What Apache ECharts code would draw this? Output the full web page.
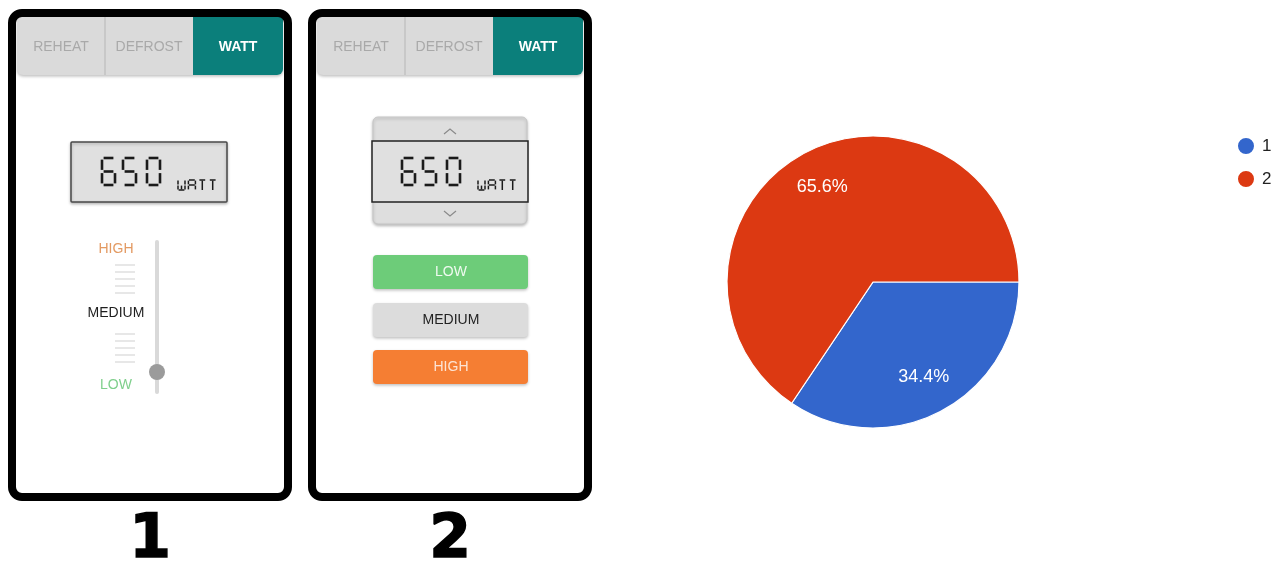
<!DOCTYPE html>
<html>
<head>
<meta charset="utf-8">
<script src="https://cdn.jsdelivr.net/npm/echarts@6/dist/echarts.min.js"></script>
<style>
html,body{margin:0;padding:0;background:#fff;}
#chart{width:1278px;height:564px;}
</style>
</head>
<body>
<div id="chart"></div>
<script>
// ---- data ----
const categories = ['1', '2'];
const shares = [34.4, 65.6];
const sliceColors = ['#3366cc', '#dc3912'];
const tabLabels = ['REHEAT', 'DEFROST', 'WATT'];
const levelLabels = ['LOW', 'MEDIUM', 'HIGH'];
const displayValue = '650';
const displayUnit = 'WATT';
const mockupCaptions = ['1', '2'];

// ---- seven-segment helper ----
const SEG_DIGITS = {
  '0': 'abcdef', '1': 'bc', '2': 'abdeg', '3': 'abcdg', '4': 'bcfg',
  '5': 'acdfg', '6': 'acdefg', '7': 'abc', '8': 'abcdefg', '9': 'abcdfg',
  'W': 'bcdefm', 'A': 'abcefg', 'T': 'at'
};
function segChar(x, y, w, h, ch, lw, gap) {
  const g = gap, out = [];
  const S = {
    a: [x + g, y, x + w - g, y],
    b: [x + w, y + g, x + w, y + h / 2 - g],
    c: [x + w, y + h / 2 + g, x + w, y + h - g],
    d: [x + g, y + h, x + w - g, y + h],
    e: [x, y + h / 2 + g, x, y + h - g],
    f: [x, y + g, x, y + h / 2 - g],
    g: [x + g, y + h / 2, x + w - g, y + h / 2],
    m: [x + w / 2, y + h / 2 + g, x + w / 2, y + h - g],
    t: [x + w / 2, y + g, x + w / 2, y + h]
  };
  for (const s of (SEG_DIGITS[ch] || '')) {
    const p = S[s];
    out.push({type: 'line', z: 20, silent: true,
      shape: {x1: p[0], y1: p[1], x2: p[2], y2: p[3]},
      style: {stroke: '#1a1a1a', lineWidth: lw, lineCap: 'butt'}});
  }
  return out;
}
function lcd(ox) {
  let els = [];
  const digitX = [102, 123, 147];
  displayValue.split('').forEach((c, i) => {
    els = els.concat(segChar(ox + digitX[i], 158, 13, 27, c, 2.6, 1.6));
  });
  displayUnit.split('').forEach((c, i) => {
    els = els.concat(segChar(ox + 178 + i * 10.4, 180, 7, 10, c, 1.5, 0.6));
  });
  return els;
}

const shadow = {shadowBlur: 3, shadowColor: 'rgba(0,0,0,0.25)', shadowOffsetY: 1.5};
const FONT = '"Liberation Sans", Arial, sans-serif';

function phone(ox, variant) {
  const els = [];
  // tab bar
  els.push({type: 'rect', z: 5, shape: {x: ox + 17, y: 17, width: 266, height: 58, r: [0, 0, 6, 6]},
    style: Object.assign({fill: '#dadada'}, shadow)});
  els.push({type: 'rect', z: 6, shape: {x: ox + 193, y: 17, width: 90, height: 58, r: [0, 0, 6, 0]},
    style: {fill: '#0b7f7b'}});
  els.push({type: 'line', z: 6, shape: {x1: ox + 105, y1: 17, x2: ox + 105, y2: 75},
    style: {stroke: '#bdbdbd', lineWidth: 1.2}});
  const tabX = [61, 149, 238];
  tabLabels.forEach((t, i) => {
    els.push({type: 'text', z: 7, x: ox + tabX[i], y: 47,
      style: {text: t, fill: i === 2 ? '#ffffff' : '#a9a9a9', font: (i === 2 ? 'bold ' : '') + '14px ' + FONT,
        align: 'center', verticalAlign: 'middle'}});
  });
  if (variant === 1) {
    els.push({type: 'rect', z: 8, shape: {x: ox + 71, y: 142, width: 156, height: 60, r: 1},
      style: Object.assign({fill: '#e0e0e0', stroke: '#4a4a4a', lineWidth: 1.5}, shadow)});
    // slider
    els.push({type: 'line', z: 8, shape: {x1: ox + 157, y1: 242, x2: ox + 157, y2: 392},
      style: {stroke: '#d9d9d9', lineWidth: 4, lineCap: 'round'}});
    [265, 272, 279, 286, 293, 334, 341, 348, 355, 362].forEach(y => {
      els.push({type: 'line', z: 8, shape: {x1: ox + 115, y1: y, x2: ox + 135, y2: y},
        style: {stroke: '#cfcfcf', lineWidth: 1}});
    });
    els.push({type: 'circle', z: 9, shape: {cx: ox + 157, cy: 372, r: 8}, style: {fill: '#9b9b9b'}});
    const lvY = [385, 313, 249], lvC = ['#7fcf8c', '#1e1e1e', '#e39a62'];
    levelLabels.forEach((t, i) => {
      els.push({type: 'text', z: 9, x: ox + 116, y: lvY[i],
        style: {text: t, fill: lvC[i], font: '14px ' + FONT, align: 'center', verticalAlign: 'middle'}});
    });
  } else {
    els.push({type: 'rect', z: 8, shape: {x: ox + 73, y: 117, width: 154, height: 107, r: 5},
      style: Object.assign({fill: '#dedede', stroke: '#c6c6c6', lineWidth: 1}, shadow)});
    els.push({type: 'rect', z: 9, shape: {x: ox + 72, y: 141, width: 156, height: 61},
      style: {fill: '#e0e0e0', stroke: '#222', lineWidth: 1.5}});
    els.push({type: 'polyline', z: 9, shape: {points: [[ox + 144, 134], [ox + 150, 129], [ox + 156, 134]]},
      style: {stroke: '#8a8a8a', lineWidth: 1.2, fill: null}});
    els.push({type: 'polyline', z: 9, shape: {points: [[ox + 144, 211], [ox + 150, 216], [ox + 156, 211]]},
      style: {stroke: '#8a8a8a', lineWidth: 1.2, fill: null}});
    const btnY = [255, 303, 350], btnF = ['#6dcc79', '#dcdcdc', '#f57e33'], btnT = ['#effaf0', '#222222', '#fde4d4'];
    levelLabels.forEach((t, i) => {
      els.push({type: 'rect', z: 8, shape: {x: ox + 73, y: btnY[i], width: 155, height: 34, r: 4},
        style: Object.assign({fill: btnF[i]}, shadow)});
      els.push({type: 'text', z: 9, x: ox + 151, y: btnY[i] + 17,
        style: {text: t, fill: btnT[i], font: '14px ' + FONT, align: 'center', verticalAlign: 'middle'}});
    });
  }
  lcd(ox).forEach(e => els.push(e));
  // frame
  els.push({type: 'rect', z: 30, shape: {x: ox + 12, y: 13, width: 276, height: 484, r: 10},
    style: {fill: null, stroke: '#000', lineWidth: 8}});
  // caption
  els.push({type: 'text', z: 30, x: ox + 150, y: 541,
    style: {text: mockupCaptions[variant - 1], fill: '#000', font: '900 60px "DejaVu Sans", sans-serif',
      align: 'center', verticalAlign: 'middle', stroke: '#000', lineWidth: 1.5}});
  return els;
}

const pieData = categories.map((c, i) => ({name: c, value: shares[i]}));

const chart = echarts.init(document.getElementById('chart'), null, {renderer: 'canvas'});
chart.setOption({
  backgroundColor: '#ffffff',
  animation: false,
  color: sliceColors,
  legend: {
    orient: 'vertical', left: 1231, top: 131, icon: 'circle',
    itemWidth: 18, itemHeight: 18, itemGap: 13,
    textStyle: {fontSize: 17, color: '#222', fontFamily: FONT, padding: [0, 0, 0, 2]},
    data: categories
  },
  series: [
    {
      type: 'pie', center: [873, 282], radius: [0, 146], startAngle: 0, clockwise: true,
      data: pieData, label: {show: false}, labelLine: {show: false},
      itemStyle: {borderColor: '#ffffff', borderWidth: 1.2},
      emphasis: {disabled: true}
    },
    {
      type: 'pie', center: [873, 282], radius: [64, 146], startAngle: 0, clockwise: true,
      data: pieData, silent: true, legendHoverLink: false,
      itemStyle: {color: 'rgba(0,0,0,0)', borderWidth: 0},
      label: {show: true, position: 'inside', color: '#ffffff', fontSize: 18, fontFamily: FONT,
        formatter: p => p.value.toFixed(1) + '%'},
      labelLine: {show: false}, emphasis: {disabled: true}
    }
  ],
  graphic: phone(0, 1).concat(phone(300, 2))
});
</script>
</body>
</html>
